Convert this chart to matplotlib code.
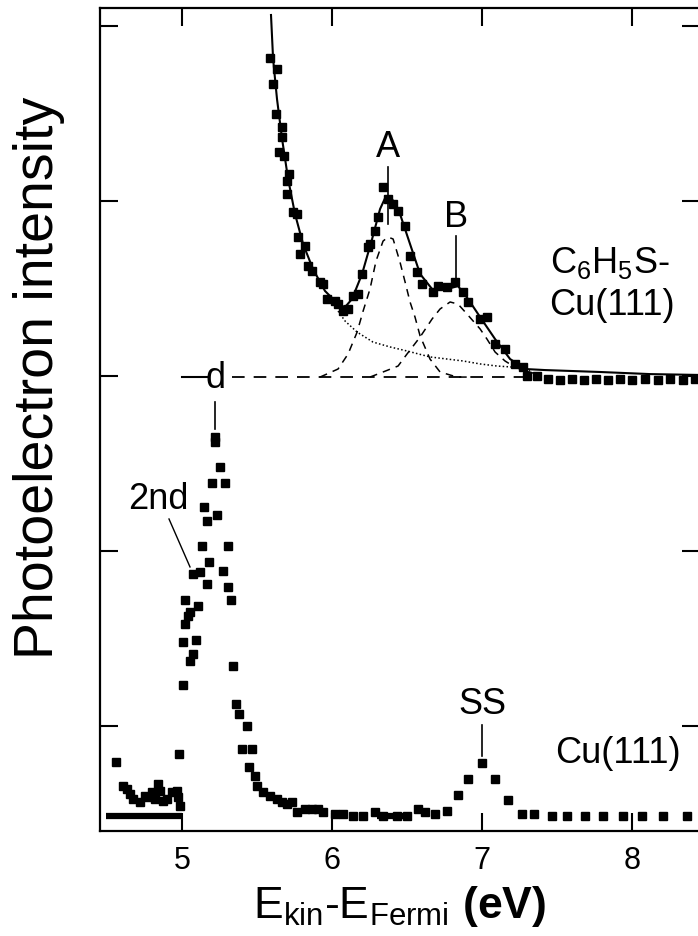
import numpy as np
import matplotlib
matplotlib.use("Agg")
import matplotlib.pyplot as plt

plt.rcParams['font.family'] = ['Liberation Sans', 'DejaVu Sans']
plt.rcParams['mathtext.fontset'] = 'custom'
plt.rcParams['mathtext.rm'] = 'Liberation Sans'
plt.rcParams['mathtext.it'] = 'Liberation Sans'
plt.rcParams['mathtext.bf'] = 'Liberation Sans:bold'

# --- C6H5S-Cu(111) spectrum (offset up), measured points ---
top_x = [5.587, 5.633, 5.607, 5.627, 5.667, 5.667, 5.647, 5.680, 5.713, 5.700,
         5.700, 5.740, 5.767, 5.773, 5.820, 5.787, 5.840, 5.867, 5.920, 5.940,
         5.967, 6.020, 6.040, 6.073, 6.107, 6.140, 6.173, 6.200, 6.240, 6.253,
         6.287, 6.307, 6.340, 6.373, 6.407, 6.440, 6.487, 6.520, 6.567, 6.600,
         6.673, 6.707, 6.767, 6.820, 6.873, 6.907, 6.987, 7.033, 7.087, 7.153,
         7.220, 7.273, 7.300, 7.367, 7.440, 7.520, 7.600, 7.680, 7.760, 7.840,
         7.920, 8.000, 8.087, 8.173, 8.253, 8.340, 8.420]
top_y = [4.417, 4.354, 4.269, 4.097, 4.023, 3.966, 3.880, 3.857, 3.754, 3.714,
         3.640, 3.537, 3.526, 3.394, 3.343, 3.297, 3.229, 3.200, 3.137, 3.126,
         3.040, 3.029, 3.011, 2.971, 2.983, 3.057, 3.069, 3.183, 3.337, 3.354,
         3.429, 3.509, 3.680, 3.611, 3.583, 3.543, 3.457, 3.286, 3.194, 3.126,
         3.080, 3.114, 3.109, 3.137, 3.080, 3.023, 2.926, 2.937, 2.783, 2.754,
         2.669, 2.651, 2.600, 2.600, 2.583, 2.577, 2.583, 2.577, 2.583, 2.577,
         2.583, 2.577, 2.583, 2.577, 2.583, 2.577, 2.583]

# total fit (solid line)
fit_x = [5.593, 5.607, 5.633, 5.667, 5.707, 5.753, 5.807, 5.873, 5.953, 6.040,
         6.087, 6.133, 6.200, 6.267, 6.320, 6.360, 6.400, 6.453, 6.520, 6.587,
         6.667, 6.767, 6.840, 6.907, 6.987, 7.087, 7.187, 7.287, 7.420, 7.787,
         8.120, 8.453]
fit_y = [4.663, 4.411, 4.183, 3.954, 3.726, 3.526, 3.354, 3.211, 3.086, 3.011,
         2.994, 3.040, 3.183, 3.383, 3.554, 3.629, 3.611, 3.526, 3.354, 3.183,
         3.097, 3.097, 3.114, 3.040, 2.937, 2.811, 2.697, 2.640, 2.634, 2.623,
         2.611, 2.606]

# fit components
peakA_x = [5.920, 6.040, 6.107, 6.167, 6.207, 6.253, 6.293, 6.340, 6.373, 6.407,
           6.453, 6.487, 6.520, 6.553, 6.587, 6.653, 6.720, 6.833, 6.920]
peakA_y = [2.594, 2.640, 2.726, 2.851, 2.971, 3.097, 3.257, 3.371, 3.394, 3.383,
           3.251, 3.137, 3.023, 2.937, 2.829, 2.697, 2.623, 2.594, 2.594]
peakB_x = [6.253, 6.340, 6.440, 6.500, 6.587, 6.667, 6.720, 6.787, 6.840, 6.900,
           6.987, 7.033, 7.087, 7.153, 7.207, 7.287, 7.387]
peakB_y = [2.594, 2.623, 2.657, 2.726, 2.823, 2.926, 2.983, 3.023, 3.011, 2.954,
           2.869, 2.811, 2.737, 2.686, 2.657, 2.629, 2.606]
bg_x = [6.040, 6.087, 6.167, 6.273, 6.387, 6.500, 6.653, 6.767, 6.873, 6.987,
        7.100, 7.207, 7.320]
bg_y = [2.971, 2.914, 2.851, 2.794, 2.766, 2.743, 2.709, 2.697, 2.686, 2.669,
        2.657, 2.651, 2.629]
zero_top = 2.594

# --- clean Cu(111) spectrum ---
cu_x = [4.560, 4.607, 4.633, 4.653, 4.673, 4.720, 4.753, 4.773, 4.800, 4.820,
        4.840, 4.853, 4.873, 4.900, 4.933, 4.967, 4.973, 4.987, 4.980, 5.007,
        5.007, 5.053, 5.073, 5.093, 5.020, 5.040, 5.053, 5.020, 5.107, 5.073,
        5.120, 5.167, 5.180, 5.133, 5.307, 5.273, 5.307, 5.327, 5.167, 5.233,
        5.147, 5.200, 5.287, 5.253, 5.220, 5.220, 5.340, 5.360, 5.380, 5.433,
        5.400, 5.467, 5.447, 5.487, 5.500, 5.540, 5.587, 5.633, 5.667, 5.700,
        5.733, 5.767, 5.820, 5.867, 5.907, 5.940, 6.020, 6.073, 6.140, 6.207,
        6.287, 6.340, 6.433, 6.500, 6.573, 6.620, 6.687, 6.767, 6.840, 6.907,
        7.000, 7.087, 7.173, 7.267, 7.347, 7.467, 7.567, 7.687, 7.807, 7.940,
        8.067, 8.207, 8.367]
cu_y = [0.394, 0.257, 0.240, 0.211, 0.183, 0.166, 0.200, 0.194, 0.223, 0.183,
        0.269, 0.229, 0.171, 0.183, 0.223, 0.229, 0.194, 0.143, 0.440, 0.834,
        1.080, 0.971, 1.011, 1.091, 1.183, 1.229, 1.251, 1.320, 1.286, 1.469,
        1.480, 1.411, 1.537, 1.629, 1.629, 1.486, 1.394, 1.320, 1.771, 1.806,
        1.851, 1.989, 1.989, 2.080, 2.223, 2.251, 0.943, 0.726, 0.669, 0.600,
        0.469, 0.469, 0.366, 0.314, 0.257, 0.223, 0.200, 0.183, 0.166, 0.154,
        0.166, 0.109, 0.126, 0.126, 0.126, 0.109, 0.097, 0.097, 0.086, 0.086,
        0.109, 0.086, 0.086, 0.086, 0.126, 0.109, 0.097, 0.114, 0.206, 0.297,
        0.389, 0.297, 0.177, 0.097, 0.097, 0.086, 0.086, 0.086, 0.086, 0.086,
        0.086, 0.086, 0.086]
# dense stretches of points that merge into a bar
cu_dense_x = [[4.49, 5.0], [6.30, 6.50]]
cu_dense_y = 0.086

xticks = [5, 6, 7, 8]
yticks = [0.6, 1.6, 2.6, 3.6, 4.6]

fig = plt.figure(figsize=(6.98, 9.37), dpi=100)
ax = fig.add_axes([100/698, 105/937, 600/698, 823/937])

ax.plot(fit_x, fit_y, color='black', lw=1.5)
ax.plot(top_x, top_y, 's', color='black', ms=5.5)
ax.plot(peakA_x, peakA_y, color='black', lw=1.1, dashes=(5, 4))
ax.plot(peakB_x, peakB_y, color='black', lw=1.1, dashes=(5, 4))
ax.plot(bg_x, bg_y, color='black', lw=1.1, ls=(0, (1, 1.5)))
ax.plot([5.33, 7.4], [zero_top, zero_top], color='black', lw=1.3, dashes=(7, 5))
ax.plot([5.0, 5.165], [zero_top, zero_top], color='black', lw=1.5)

ax.plot(cu_x, cu_y, 's', color='black', ms=5.5)
for seg in cu_dense_x:
    ax.plot(seg, [cu_dense_y, cu_dense_y], color='black', lw=4.5, solid_capstyle='butt')

fs = 26
ax.text(6.373, 3.91, 'A', ha='center', va='center', fontsize=fs)
ax.plot([6.373, 6.373], [3.794, 3.469], color='black', lw=1.2)
ax.text(6.827, 3.514, 'B', ha='center', va='center', fontsize=fs)
ax.plot([6.827, 6.827], [3.40, 3.126], color='black', lw=1.2)
ax.text(7.45, 3.25, r'C$_6$H$_5$S-', ha='left', va='center', fontsize=fs)
ax.text(7.45, 3.01, 'Cu(111)', ha='left', va='center', fontsize=fs)
ax.text(5.225, 2.594, 'd', ha='center', va='center', fontsize=fs)
ax.plot([5.22, 5.22], [2.451, 2.297], color='black', lw=1.2)
ax.text(4.84, 1.90, '2nd', ha='center', va='center', fontsize=fs)
ax.plot([4.913, 5.053], [1.783, 1.509], color='black', lw=1.0)
ax.text(7.0, 0.726, 'SS', ha='center', va='center', fontsize=fs)
ax.plot([7.0, 7.0], [0.606, 0.429], color='black', lw=1.2)
ax.text(7.49, 0.451, 'Cu(111)', ha='left', va='center', fontsize=fs)

ax.set_xlim(4.453, 8.453)
ax.set_ylim(0, 4.703)
ax.set_xticks(xticks)
ax.set_yticks(yticks)
ax.set_yticklabels([])
ax.tick_params(direction='in', length=13, width=1.5, top=True, right=True,
               labelsize=22, pad=10)
for s in ax.spines.values():
    s.set_linewidth(1.6)

ax.set_xlabel(r'E$_{\mathregular{kin}}$-E$_{\mathregular{Fermi}}$ $\mathbf{(eV)}$',
              fontsize=32, labelpad=6)
ax.set_ylabel('Photoelectron intensity', fontsize=40, labelpad=6)
ax.yaxis.set_label_coords(-35/600, 0.552)

fig.savefig('out.png', dpi=100)
